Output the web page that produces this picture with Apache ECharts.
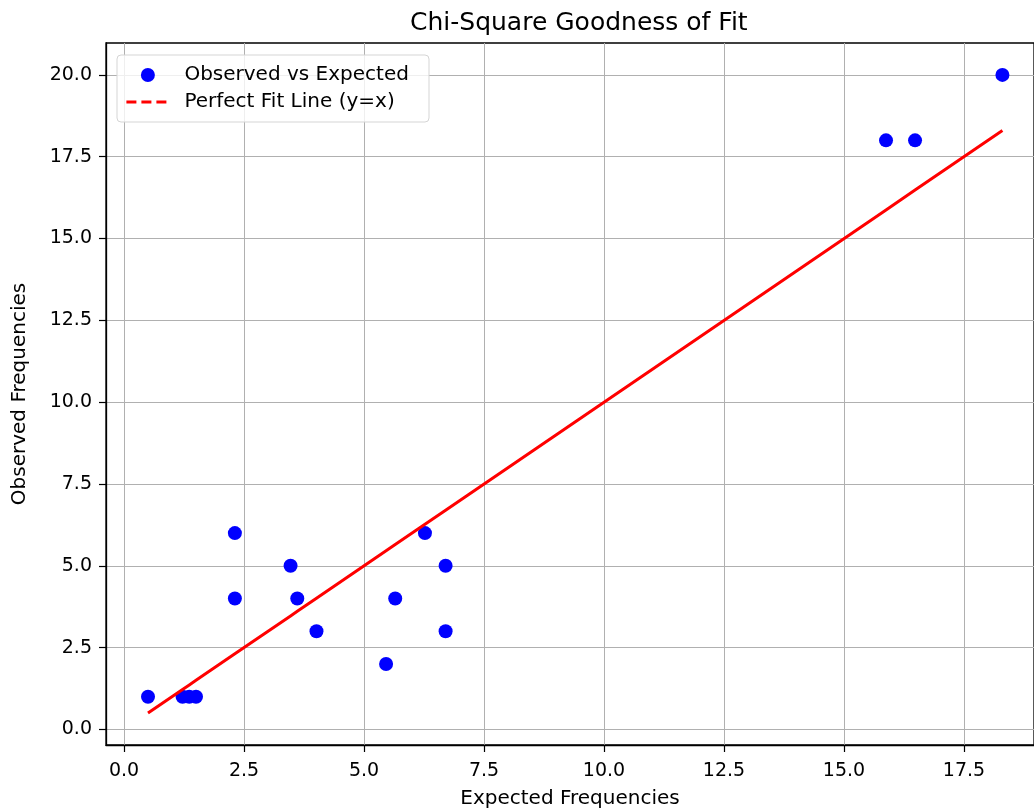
<!DOCTYPE html>
<html>
<head>
<meta charset="utf-8">
<script src="https://cdn.jsdelivr.net/npm/echarts@6/dist/echarts.min.js"></script>
<style>
html,body{margin:0;padding:0;background:#fff;}
#chart{width:1034px;height:811px;}
</style>
</head>
<body>
<div id="chart"></div>
<script>
const expected = [0.5, 1.22, 1.36, 1.5, 2.31, 2.31, 3.47, 3.61, 4.01, 5.46, 5.65, 6.27, 6.70, 6.70, 15.875, 16.48, 18.30];
const observed = [1, 1, 1, 1, 6, 4, 5, 4, 3, 2, 4, 6, 5, 3, 18, 18, 20];
const xTicks = [0, 2.5, 5, 7.5, 10, 12.5, 15, 17.5];
const yTicks = [0, 2.5, 5, 7.5, 10, 12.5, 15, 17.5, 20];
const scatterName = 'Observed vs Expected';
const lineName = 'Perfect Fit Line (y=x)';

const scatterData = expected.map((e, i) => [e, observed[i]]);
const lineData = expected.slice().sort((a, b) => a - b).map(e => [e, e]);

const FONT = 'DejaVu Sans';
const chart = echarts.init(document.getElementById('chart'), null, {renderer: 'canvas'});
const axisCommon = {
  axisLine: {show: true, onZero: false, lineStyle: {color: '#000', width: 1.3}},
  axisTick: {show: true, inside: false, length: 7, lineStyle: {color: '#000', width: 1.2}},
  splitLine: {show: true, lineStyle: {color: '#b0b0b0', width: 1}},
  nameLocation: 'middle',
  nameTextStyle: {fontFamily: FONT, fontSize: 20, color: '#000'}
};
chart.setOption({
  animation: false,
  backgroundColor: '#fff',
  title: {
    text: 'Chi-Square Goodness of Fit',
    left: 405, top: 6,
    textStyle: {fontFamily: FONT, fontSize: 25, fontWeight: 'normal', color: '#000'}
  },
  grid: {left: 106, top: 43, width: 928, height: 702, containLabel: false,
         outerBoundsMode: 'none',
         show: true, borderColor: '#000', borderWidth: 1.3, backgroundColor: 'transparent'},
  xAxis: Object.assign({}, axisCommon, {
    type: 'value', min: -0.375, max: 18.958,
    name: 'Expected Frequencies', nameGap: 44,
    axisTick: Object.assign({}, axisCommon.axisTick, {customValues: xTicks}),
    axisLabel: {customValues: xTicks, formatter: v => v.toFixed(1), fontFamily: FONT, fontSize: 19, color: '#000', margin: 17}
  }),
  yAxis: Object.assign({}, axisCommon, {
    type: 'value', min: -0.475, max: 20.975,
    name: 'Observed Frequencies', nameGap: 76,
    axisTick: Object.assign({}, axisCommon.axisTick, {customValues: yTicks}),
    axisLabel: {customValues: yTicks, formatter: v => v.toFixed(1), fontFamily: FONT, fontSize: 19, color: '#000', margin: 14}
  }),
  graphic: [{
    type: 'rect', z: 10,
    shape: {x: 117, y: 55, width: 312, height: 67, r: 4},
    style: {fill: 'rgba(255,255,255,0.8)', stroke: '#d5d5d5', lineWidth: 1}
  }],
  legend: {
    orient: 'vertical', left: 125, top: 65, padding: 0, z: 20,
    itemWidth: 43, itemHeight: 14, itemGap: 7,
    lineStyle: {width: 2.8},
    textStyle: {fontFamily: FONT, fontSize: 20, color: '#000', padding: [0, 0, 0, 10]},
    data: [
      {name: scatterName, icon: 'circle'},
      {name: lineName, icon: 'inherit', itemStyle: {opacity: 0},
       lineStyle: {type: [10, 5], width: 2.8, color: '#ff0000', opacity: 1}}
    ]
  },
  series: [
    {
      name: scatterName, type: 'scatter', data: scatterData,
      symbol: 'circle', symbolSize: 14,
      itemStyle: {color: '#0000ff', opacity: 1}, z: 3
    },
    {
      name: lineName, type: 'line', data: lineData,
      symbol: 'none', showSymbol: false,
      lineStyle: {color: '#ff0000', width: 3, type: 'solid'}, z: 4
    }
  ]
});
</script>
</body>
</html>
